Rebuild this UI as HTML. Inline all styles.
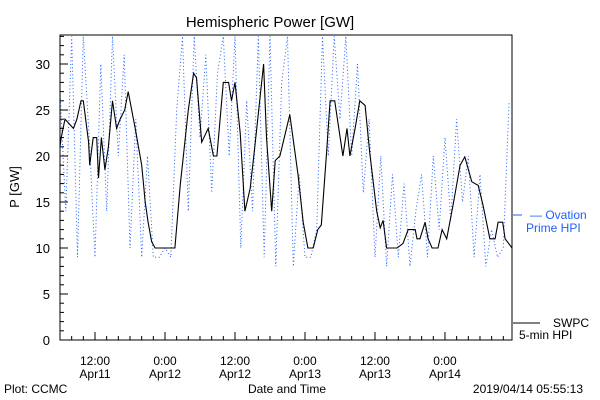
<!DOCTYPE html>
<html><head><meta charset="utf-8"><style>
body{margin:0;background:#fff;}
svg{display:block;font-family:"Liberation Sans",sans-serif;}
</style></head><body>
<svg id="chart" width="600" height="400" xmlns="http://www.w3.org/2000/svg">
<rect width="600" height="400" fill="#fff"/>
<text x="270" y="27" font-size="15" text-anchor="middle">Hemispheric Power [GW]</text>
<text transform="translate(19,187) rotate(-90)" font-size="13" text-anchor="middle">P [GW]</text>
<text x="287" y="393" font-size="12" text-anchor="middle">Date and Time</text>
<text x="4" y="393" font-size="12">Plot: CCMC</text>
<text x="583" y="393" font-size="12" text-anchor="end">2019/04/14 05:55:13</text>
<g id="plot"></g>
<line x1="513" y1="215" x2="522" y2="215" stroke="#1f5fff" stroke-width="1"/>
<text x="530" y="219" font-size="12" fill="#1f5fff">— Ovation</text>
<text x="526" y="232" font-size="12" fill="#1f5fff">Prime HPI</text>
<line x1="513" y1="323" x2="540" y2="323" stroke="#000"/>
<text x="553" y="327" font-size="12">SWPC</text>
<text x="519" y="339" font-size="12">5-min HPI</text>
</svg>
<script>
const blackHours=[0,0.2,0.86,2.3,2.9,3.6,4.0,4.9,5.1,5.7,6.3,6.6,7.1,7.7,8.3,9.0,9.7,10.3,11.1,11.7,12.9,14.0,14.6,15.1,15.7,16.3,19.7,20.6,22.0,22.9,23.4,24.3,25.4,26.3,26.9,28.0,28.9,29.4,30.0,30.9,31.7,32.6,33.4,34.9,35.4,36.3,36.9,37.7,39.4,40.8,41.7,42.5,43.4,44.2,44.8,45.7,46.3,47.1,48.5,49.2,49.7,50.6,51.4,52.3,53.1,54.3,54.9,55.4,56.0,57.8,58.8,59.7,60.9,61.2,61.7,62.6,63.1,63.8,64.8,65.5,66.3,67.4,68.6,69.4,70.6,71.7,72.5,73.7,74.6,75.1,75.9,76.3,77.5];
const blackValues=[21,22,24,23,24,26,26,21.5,19,22,22,17.6,22,18.5,21,26,23,24,25,27,23,19,15,12.8,10.7,10,10,16.8,25,29,28.5,21.5,23,20,20,28,28,26,28,22.5,14,16.5,21,30,22,14,19.5,20,24.5,18,12.8,10,10,12,12.5,20.4,26,26,20,23,20,23,26,25.5,20.4,14,12.2,13,10,10,10.5,12,12,11,11,12.8,11,10,10,12,11,14.7,19,19.9,17.2,16.8,14.7,11,11,12.8,12.8,11,10];
const blueHours=[0,1,2,3,4,5,6,7,8,9,10,11,12,13,14,15,16,17,18,19,20,21,22,23,24,25,26,27,28,29,30,31,32,33,34,35,36,37,38,39,40,41,42,43,44,45,46,47,48,49,50,51,52,53,54,55,56,57,58,59,60,61,62,63,64,65,66,67,68,69,70,71,72,73,74,75,76,77];
const blueValues=[27,14,33,9,33,22,9,30,14,33,20,31,10,24,9,20,9,9,10,9,25,33,14,33,22,31,16,29,33,20,33,10,26,14,33,9,33,8,28,33,8,18,9,9,12,33,20,33,24,33,20,30,16,24,9,20,8,18,9,17,8,14,18,9,20,12,22,13,24,15,20,9,18,8,12,9,10,26];
const yTickLabels=["0","5","10","15","20","25","30"];
const xTickLabels=[["12:00","Apr11"],["0:00","Apr12"],["12:00","Apr12"],["0:00","Apr13"],["12:00","Apr13"],["0:00","Apr14"]];
const xTickHours=[6,18,30,42,54,66];

const X0=60,X1=512,Y0=340,YT=35;
const xs=h=>X0+h*5.833;
const ys=v=>Y0-v*9.2;
const NS="http://www.w3.org/2000/svg";
const g=document.getElementById('plot');
function mk(tag,attrs){const e=document.createElementNS(NS,tag);for(const k in attrs)e.setAttribute(k,attrs[k]);return e;}

const defs=mk('defs',{});const cp=mk('clipPath',{id:'clip'});
cp.appendChild(mk('rect',{x:X0,y:YT,width:X1-X0,height:Y0-YT}));defs.appendChild(cp);g.appendChild(defs);

let d='';blueHours.forEach((h,i)=>{d+=(i?'L':'M')+xs(h).toFixed(1)+' '+ys(blueValues[i]).toFixed(1)+' ';});
const bl=mk('path',{d:d,fill:'none',stroke:'#1f5fff','stroke-width':1,'stroke-dasharray':'1 2.5','clip-path':'url(#clip)'});


g.appendChild(bl);

d='';blackHours.forEach((h,i)=>{d+=(i?'L':'M')+xs(h).toFixed(1)+' '+ys(blackValues[i]).toFixed(1)+' ';});
const kl=mk('path',{d:d,fill:'none',stroke:'#000','stroke-width':1.1,'clip-path':'url(#clip)'});


g.appendChild(kl);

const fr=mk('rect',{x:X0,y:YT,width:X1-X0,height:Y0-YT,fill:'none',stroke:'#000','stroke-width':1});


g.appendChild(fr);

for(let v=0;v<=33;v++){const y=ys(v);const major=v%5===0;
 const t=mk('line',{x1:X0,x2:X0+(major?8:4),y1:y,y2:y,stroke:'#000'});
 
 
 g.appendChild(t);}
yTickLabels.forEach(s=>{const v=+s;const t=mk('text',{x:X0-10,y:ys(v)+5,'font-size':13,'text-anchor':'end'});t.textContent=s;
 
 
 g.appendChild(t);});
for(let h=0;h<=77;h+=2){const x=xs(h);const major=(h-6)%12===0;
 const t=mk('line',{x1:x,x2:x,y1:Y0,y2:Y0-(major?8:4),stroke:'#000'});
 
 
 g.appendChild(t);}
xTickLabels.forEach((lab,i)=>{const x=xs(xTickHours[i]);
 const t=mk('text',{x:x,y:365,'font-size':12,'text-anchor':'middle'});t.textContent=lab[0];
 
 
 g.appendChild(t);
 const t2=mk('text',{x:x,y:378,'font-size':12,'text-anchor':'middle'});t2.textContent=lab[1];
 
 
 g.appendChild(t2);});
</script>
</body></html>
